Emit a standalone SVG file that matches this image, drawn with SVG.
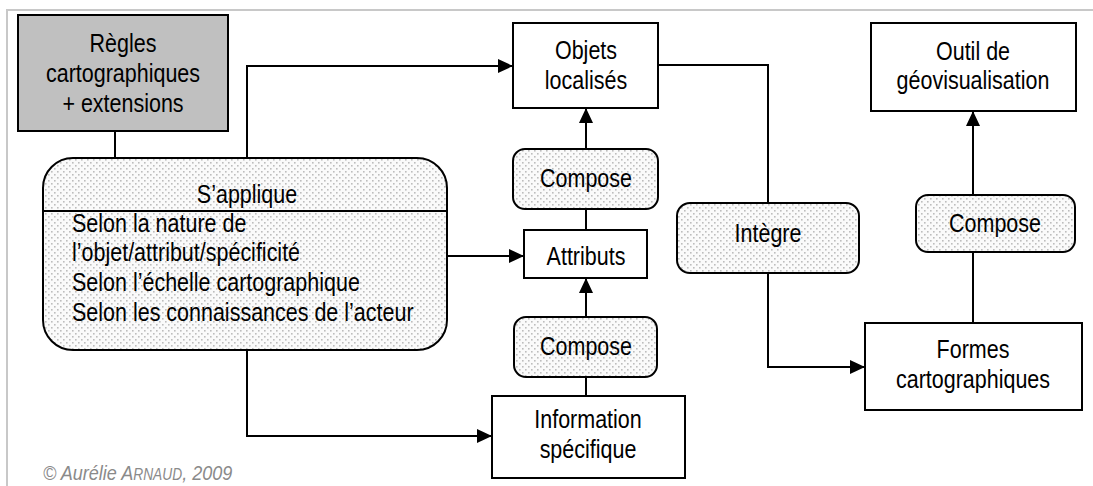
<svg xmlns="http://www.w3.org/2000/svg" width="1093" height="486" viewBox="0 0 1093 486">
<style>
text{font-family:"Liberation Sans",Arial,sans-serif;font-size:25px;fill:#000;text-anchor:middle}
.box{fill:#fff;stroke:#000;stroke-width:2}
.dot{fill:url(#dots);stroke:#000;stroke-width:2}
.con{fill:none;stroke:#000;stroke-width:2}
.left{text-anchor:start}
.copy{font-style:italic;font-size:21px;fill:#8a8a8a;text-anchor:start}
</style>
<defs>
<pattern id="dots" width="6" height="6" patternUnits="userSpaceOnUse">
<rect width="6" height="6" fill="#fafafa"/>
<rect x="0" y="0" width="1.6" height="1.6" fill="#bdbdbd"/>
<rect x="3" y="3" width="1.6" height="1.6" fill="#bdbdbd"/>
</pattern>
<marker id="arr" markerWidth="16" markerHeight="15" refX="15" refY="7" orient="auto" markerUnits="userSpaceOnUse">
<path d="M0,0 L15,7 L0,14 z" fill="#000"/>
</marker>
</defs>
<rect width="1093" height="486" fill="#fff"/>
<path d="M7,486 V10 H1093" fill="none" stroke="#c8c8c8" stroke-width="2"/>

<g id="connectors">
<path class="con" d="M115,131 V158"/>
<path class="con" d="M247,158 V66 H513" marker-end="url(#arr)"/>
<path class="con" d="M447,256 H524" marker-end="url(#arr)"/>
<path class="con" d="M247,350 V436 H492" marker-end="url(#arr)"/>
<path class="con" d="M586,149 V108" marker-end="url(#arr)"/>
<path class="con" d="M586,230 V209"/>
<path class="con" d="M586,317 V278" marker-end="url(#arr)"/>
<path class="con" d="M586,396 V377"/>
<path class="con" d="M658,65 H768 V203"/>
<path class="con" d="M768,273 V367 H865" marker-end="url(#arr)"/>
<path class="con" d="M973,323 V252"/>
<path class="con" d="M973,195 V111" marker-end="url(#arr)"/>
</g>

<g id="regles">
<rect x="18" y="15" width="210" height="116" fill="#c0c0c0" stroke="#000" stroke-width="2"/>
<text transform="matrix(0.86 0 0 1 123 52)">Règles</text>
<text transform="matrix(0.86 0 0 1 123 82)">cartographiques</text>
<text transform="matrix(0.86 0 0 1 123 112)">+ extensions</text>
</g>

<g id="sapplique">
<rect class="dot" x="43" y="158" width="404" height="192" rx="30" ry="30"/>
<line x1="43" y1="211" x2="446" y2="211" stroke="#000" stroke-width="2"/>
<text transform="matrix(0.86 0 0 1 247 203)">S’applique</text>
<text class="left" transform="matrix(0.86 0 0 1 72 232)">Selon la nature de</text>
<text class="left" transform="matrix(0.86 0 0 1 72 261)">l’objet/attribut/spécificité</text>
<text class="left" transform="matrix(0.86 0 0 1 72 291)">Selon l’échelle cartographique</text>
<text class="left" transform="matrix(0.86 0 0 1 72 321)">Selon les connaissances de l’acteur</text>
</g>

<g id="objets">
<rect class="box" x="513" y="23" width="145" height="85"/>
<text transform="matrix(0.86 0 0 1 586 59)">Objets</text>
<text transform="matrix(0.86 0 0 1 586 89)">localisés</text>
</g>

<g id="compose1">
<rect class="dot" x="513" y="149" width="145" height="60" rx="12" ry="12"/>
<text transform="matrix(0.86 0 0 1 586 187)">Compose</text>
</g>

<g id="attributs">
<rect class="box" x="524" y="230" width="123" height="48"/>
<text transform="matrix(0.86 0 0 1 586 265)">Attributs</text>
</g>

<g id="compose2">
<rect class="dot" x="514" y="317" width="143" height="60" rx="12" ry="12"/>
<text transform="matrix(0.86 0 0 1 586 355)">Compose</text>
</g>

<g id="information">
<rect class="box" x="492" y="396" width="193" height="82"/>
<text transform="matrix(0.86 0 0 1 588 428)">Information</text>
<text transform="matrix(0.86 0 0 1 588 458)">spécifique</text>
</g>

<g id="integre">
<rect class="dot" x="677" y="203" width="182" height="70" rx="13" ry="13"/>
<text transform="matrix(0.86 0 0 1 768 242)">Intègre</text>
</g>

<g id="formes">
<rect class="box" x="865" y="323" width="217" height="87"/>
<text transform="matrix(0.86 0 0 1 973 358)">Formes</text>
<text transform="matrix(0.86 0 0 1 973 388)">cartographiques</text>
</g>

<g id="compose3">
<rect class="dot" x="916" y="195" width="159" height="57" rx="12" ry="12"/>
<text transform="matrix(0.86 0 0 1 995 232)">Compose</text>
</g>

<g id="outil">
<rect class="box" x="871" y="23" width="205" height="88"/>
<text transform="matrix(0.86 0 0 1 973 60)">Outil de</text>
<text transform="matrix(0.86 0 0 1 973 89)">géovisualisation</text>
</g>

<text class="copy" transform="matrix(0.86 0 0 1 43 480)">© Aurélie A<tspan font-size="16">RNAUD</tspan>, 2009</text>
</svg>
